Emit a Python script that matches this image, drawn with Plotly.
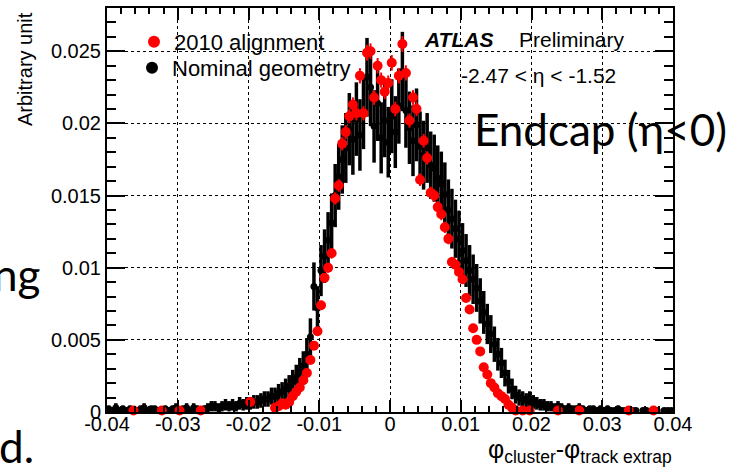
import numpy as np
import plotly.graph_objects as go

# Histogram binning: 160 bins of width 0.0005 between -0.04 and 0.04
bin_edges = np.linspace(-0.04, 0.04, 161)
bin_centers = 0.5 * (bin_edges[:-1] + bin_edges[1:])

# Nominal geometry (normalised bin contents, None = empty bin)
nominal = [
    0.0002, 0.0001, 0.0003, 0.0001, 0.0002, 0.0001, 0.0002, None, 0.0001, 0.0002,
    0.0003, 0.0001, 0.0002, 0.0002, 0.0001, None, 0.0002, 0.0001, 0.0002, 0.0003,
    None, 0.0002, 0.0003, 0.0001, 0.0003, 0.0002, None, 0.0002, 0.0003, 0.0004,
    0.0004, 0.0003, 0.0004, 0.0005, 0.0004, 0.0005, 0.0004, 0.0006, 0.0005, 0.0006,
    0.0006, 0.0007, 0.0007, 0.0008, 0.0009, 0.0009, 0.0011, 0.0011, 0.0013, 0.0014,
    0.0016, 0.0018, 0.0021, 0.0024, 0.0028, 0.0032, 0.0040, 0.0052,
    0.0087, 0.0072, 0.0098, 0.0108, 0.0119, 0.0131,
    0.0150, 0.0163, 0.0175, 0.0183, 0.0196, 0.0189, 0.0203, 0.0192, 0.0208, 0.0232,
    0.0225, 0.0198, 0.0214, 0.0190, 0.0202, 0.0187, 0.0205, 0.0194, 0.0212, 0.0236,
    0.0209, 0.0197, 0.0188, 0.0199, 0.0184, 0.0178, 0.0183, 0.0171, 0.0169, 0.0162,
    0.0158, 0.0151, 0.0140,
    0.0134, 0.0127, 0.0120, 0.0112, 0.0105, 0.0098, 0.0092, 0.0086, 0.0077, 0.0069,
    0.0061, 0.0054, 0.0047, 0.0040, 0.0034, 0.0027, 0.0021, 0.0016, 0.0012, 0.0010,
    0.0009, 0.0008, 0.0009, 0.0007, 0.0006,
    0.0005, 0.0005, 0.0004, 0.0004, 0.0003, 0.0004, 0.0003, 0.0002, 0.0003, 0.0002,
    0.0002, 0.0003, 0.0002, 0.0001, 0.0002, 0.0002, 0.0001, 0.0002, 0.0001, 0.0002,
    0.0001, 0.0001, 0.0002, 0.0001, 0.0001, None, 0.0001, 0.0001, None, 0.0001,
    0.0001, None, 0.0001, 0.0001, None, 0.0001, 0.0001, 0.0001,
]

# 2010 alignment (normalised bin contents, None = empty bin)
alignment_2010 = (
    [None] * 7 + [0.0001] + [None] * 7 + [0.0001] + [None] * 4 + [0.0001]
    + [None] * 5 + [0.0001] + [None] * 13 + [0.0007] + [None] * 6
    + [0.0003, 0.0004, 0.0006, 0.0005, 0.0007, 0.0011, 0.0014, 0.0017, 0.0022, 0.0027,
       0.0036, 0.0046, 0.0056, 0.0074, 0.0093, 0.0100, 0.0110, 0.0148, 0.0157, 0.0186,
       0.0194, 0.0205, 0.0213, 0.0207, 0.0233, 0.0207, 0.0249, 0.0250, 0.0218, 0.0240,
       0.0230, 0.0222, 0.0228, 0.0242, 0.0210, 0.0233, 0.0255, 0.0235, 0.0202, 0.0218,
       0.0210, 0.0161, 0.0188, 0.0176, 0.0152, 0.0150, 0.0142, 0.0137, 0.0128, 0.0120,
       0.0104, 0.0102, 0.0097, 0.0092, 0.0079, 0.0071, 0.0058, 0.0050, 0.0042, 0.0031,
       0.0026, 0.0020, 0.0017, 0.0013, 0.0011, 0.0009, 0.0005, 0.0003, 0.0001, None,
       0.0001, None, 0.0001]
    + [None] * 7 + [0.0001] + [None] * 5 + [0.0001] + [None] * 13 + [0.0001]
    + [None] * 6 + [0.0001] + [None] * 5
)

# Per-bin normalisation (content per entry) used for the Poisson error bars
nominal_per_entry = 3.2e-4
alignment_per_entry = 1.2e-5
half_bin = 0.00025

x_ticks = [-0.04, -0.03, -0.02, -0.01, 0.0, 0.01, 0.02, 0.03, 0.04]
x_ticktext = ["-0.04", "-0.03", "-0.02", "-0.01", "0", "0.01", "0.02", "0.03", "0.04"]
y_ticks = [0.0, 0.005, 0.01, 0.015, 0.02, 0.025]
y_ticktext = ["0", "0.005", "0.01", "0.015", "0.02", "0.025"]


def poisson_err(values, per_entry):
    return [None if v is None else float(np.sqrt(v * per_entry)) for v in values]


W, H = 730, 474
L, R, T, B = 107, 57, 8, 62
PW, PH = W - L - R, H - T - B


def px(x):
    return (x - L) / PW


def py(y):
    return 1 - (y - T) / PH


ROOT_FONT = "Liberation Sans"
SLIDE_FONT = "Lato"

fig = go.Figure()

fig.add_trace(go.Scatter(
    x=bin_centers, y=nominal, mode="markers", name="Nominal geometry",
    marker=dict(symbol="circle", size=7, color="black"),
    error_y=dict(type="data", array=poisson_err(nominal, nominal_per_entry),
                 color="black", thickness=3.5, width=0),
    error_x=dict(type="constant", value=half_bin, color="black", thickness=3, width=0),
    cliponaxis=False, legend="legend2",
))
fig.add_trace(go.Scatter(
    x=bin_centers, y=alignment_2010, mode="markers", name="2010 alignment",
    marker=dict(symbol="circle", size=10, color="#ff0000"),
    error_y=dict(type="data", array=poisson_err(alignment_2010, alignment_per_entry),
                 color="#ff0000", thickness=2, width=0),
    cliponaxis=False, legend="legend",
))

axis_common = dict(
    showline=True, linecolor="black", linewidth=2, mirror="allticks",
    ticks="inside", tickcolor="black", tickwidth=1.5,
    showgrid=True, gridcolor="black", griddash="dot", gridwidth=1,
    zeroline=False, tickfont=dict(family=ROOT_FONT, size=20, color="black"),
)

fig.update_xaxes(
    range=[-0.04, 0.04], tickmode="array", tickvals=x_ticks, ticktext=x_ticktext,
    ticklen=12, ticklabelstandoff=-7,
    minor=dict(dtick=0.002, tick0=0, ticks="inside", ticklen=6, tickwidth=1.5,
               tickcolor="black", showgrid=False),
    **axis_common,
)
fig.update_yaxes(
    range=[0, 0.028], tickmode="array", tickvals=y_ticks, ticktext=y_ticktext,
    ticklen=18,
    minor=dict(dtick=0.001, tick0=0, ticks="inside", ticklen=9, tickwidth=1.5,
               tickcolor="black", showgrid=False),
    **axis_common,
)

annotations = [
    dict(text="Arbitrary unit", x=px(25), y=py(10), xanchor="center", yanchor="top",
         textangle=-90, font=dict(family=ROOT_FONT, size=20)),
    dict(text="φ<sub>cluster</sub>-φ<sub>track extrap</sub>", x=px(674), y=py(433),
         xanchor="right", yanchor="top", font=dict(family=ROOT_FONT, size=25)),
    dict(text="<b><i>ATLAS</i></b>", x=px(422), y=py(40), xanchor="left", yanchor="middle",
         font=dict(family=ROOT_FONT, size=21)),
    dict(text="Preliminary", x=px(517), y=py(40), xanchor="left", yanchor="middle",
         font=dict(family=ROOT_FONT, size=21)),
    dict(text="-2.47 < η < -1.52", x=px(459), y=py(75), xanchor="left", yanchor="middle",
         font=dict(family=ROOT_FONT, size=21)),
    dict(text="Endcap (η<0)", x=px(472), y=py(129), xanchor="left", yanchor="middle",
         font=dict(family=SLIDE_FONT, size=44)),
    dict(text="ng", x=px(42), y=py(274), xanchor="right", yanchor="middle",
         font=dict(family=SLIDE_FONT, size=44)),
    dict(text="d.", x=px(-3), y=py(446), xanchor="left", yanchor="middle",
         font=dict(family=SLIDE_FONT, size=44)),
]
for a in annotations:
    a.update(xref="paper", yref="paper", showarrow=False)
    a["font"].setdefault("color", "black")

legend_common = dict(xanchor="left", yanchor="top", bgcolor="rgba(0,0,0,0)",
                     borderwidth=0, itemsizing="constant",
                     font=dict(family=ROOT_FONT, size=22, color="black"))

fig.update_layout(
    width=W, height=H, margin=dict(l=L, r=R, t=T, b=B, autoexpand=False),
    paper_bgcolor="white", plot_bgcolor="white",
    font=dict(family=ROOT_FONT, size=20, color="black"),
    showlegend=True,
    legend=dict(x=px(134), y=py(21), **legend_common),
    legend2=dict(x=px(132), y=py(47), **legend_common),
    annotations=annotations,
)

fig.write_html("out.html")
